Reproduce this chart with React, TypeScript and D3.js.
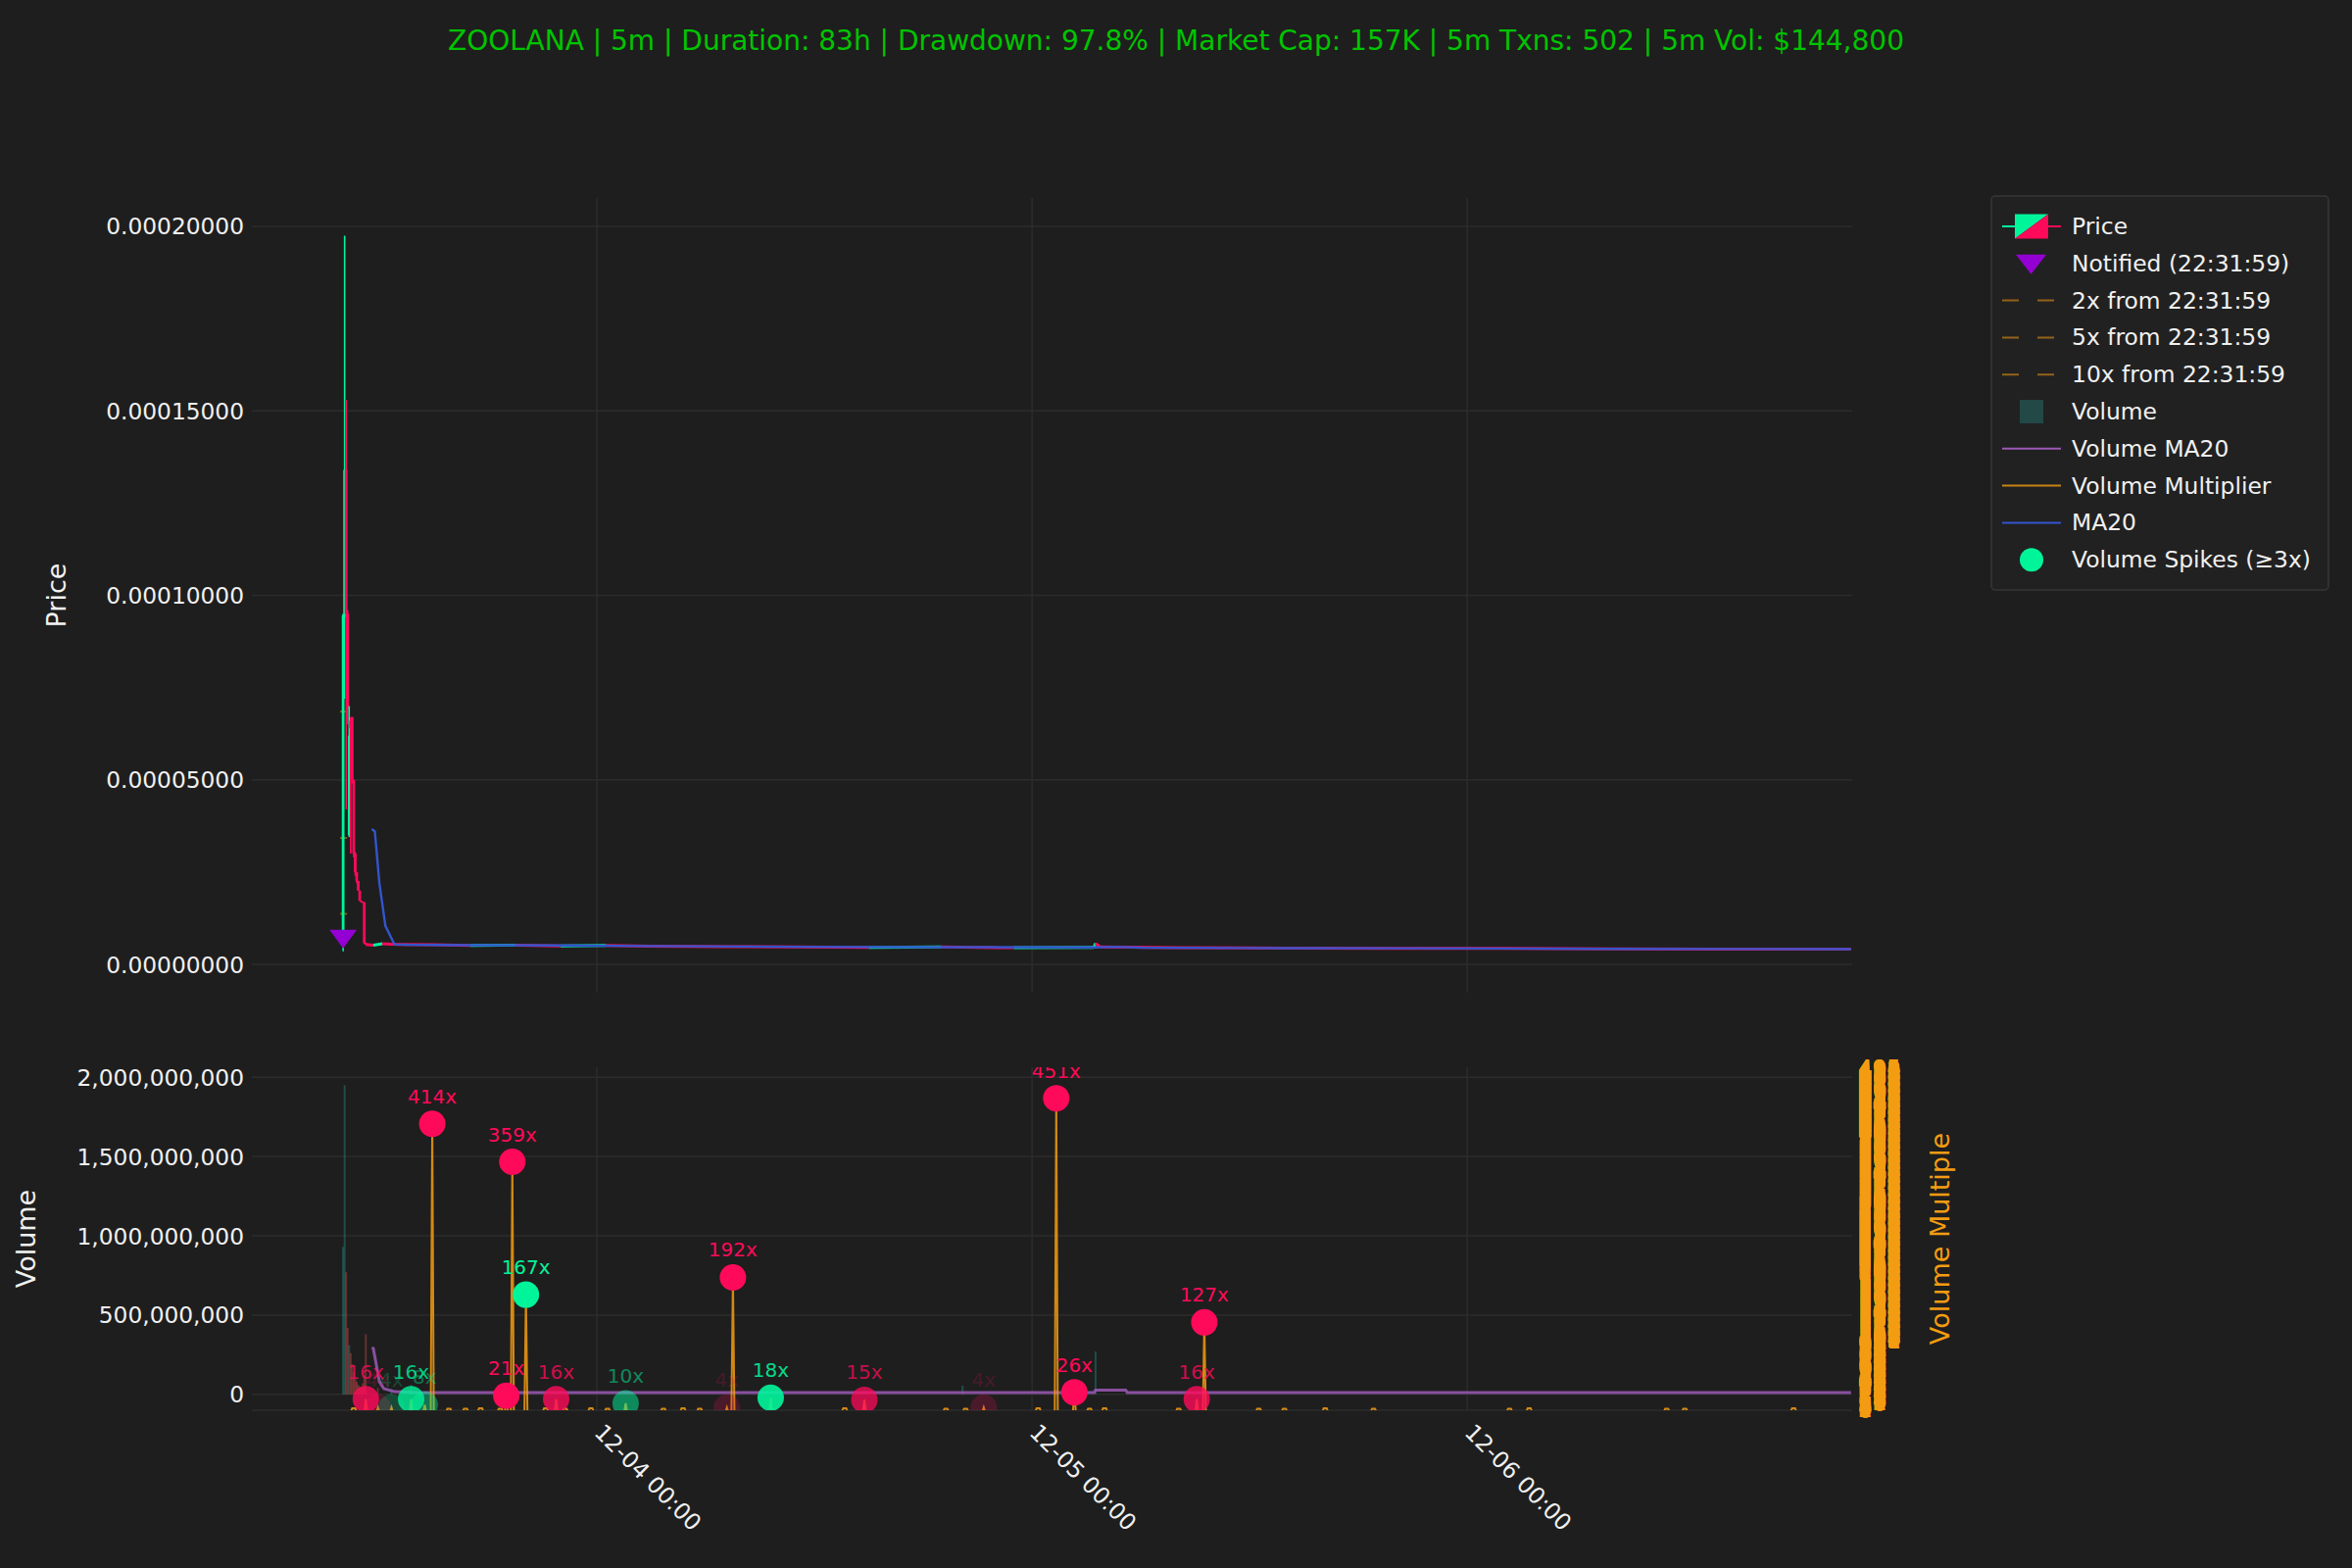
import * as d3 from 'd3'

const FONT = '"DejaVu Sans", Verdana, sans-serif'
const BG = '#1e1e1e'
const GRID = '#2c2c2c'
const UP = '#00f59b'
const DOWN = '#ff0a5a'
const VOL_UP = '#26a69a'
const VOL_DOWN = '#ef5350'
const ORANGE = '#f39c12'
const PURPLE = '#9b59b6'
const BLUE = '#3355cc'
const VIOLET = '#9400d3'

const TITLE = 'ZOOLANA | 5m | Duration: 83h | Drawdown: 97.8% | Market Cap: 157K | 5m Txns: 502 | 5m Vol: $144,800'

// launch candles (5m)
const candleTimes = ['12-03 10:00', '12-03 10:05', '12-03 10:10', '12-03 10:15', '12-03 10:20', '12-03 10:25', '12-03 10:30', '12-03 10:35', '12-03 10:40', '12-03 10:45', '12-03 10:50', '12-03 10:55', '12-03 11:00', '12-03 11:05', '12-03 11:10', '12-03 11:15']
const candleOpen = [0.0000085, 0.000094, 0.000134, 0.000095, 0.000035, 0.000066, 0.000067, 0.00005, 0.00003, 0.000025, 0.0000226, 0.00002, 0.0000172, 0.000017, 0.0000168, 0.0000058]
const candleHigh = [0.000095, 0.0001975, 0.000153, 0.000096, 0.00007, 0.000067, 0.000067, 0.00005, 0.0000305, 0.000025, 0.0000226, 0.00002, 0.0000172, 0.000017, 0.0000168, 0.0000058]
const candleLow = [0.0000035, 0.000072, 0.000042, 0.000065, 0.0000345, 0.00003, 0.000049, 0.000029, 0.000024, 0.000022, 0.00002, 0.0000172, 0.000017, 0.0000168, 0.0000055, 0.0000053]
const candleClose = [0.0000946, 0.000134, 0.000095, 0.000069, 0.000062, 0.000064, 0.00005, 0.00003, 0.000025, 0.0000226, 0.00002, 0.0000172, 0.000017, 0.0000168, 0.0000058, 0.0000054]

// after the dump the price barely moves
const tailTimes = ['12-03 11:15', '12-03 11:40', '12-03 12:10', '12-03 13:00', '12-03 15:00', '12-03 17:00', '12-03 19:30', '12-03 22:00', '12-04 00:30', '12-04 03:00', '12-04 07:00', '12-04 11:00', '12-04 15:00', '12-04 19:00', '12-04 23:00', '12-05 03:25', '12-05 03:30', '12-05 03:45', '12-05 08:00', '12-05 14:00', '12-05 20:00', '12-06 02:00', '12-06 08:00', '12-06 14:00', '12-06 21:10']
const tailPrice = [0.0000054, 0.0000052, 0.0000056, 0.0000054, 0.0000053, 0.0000051, 0.0000052, 0.000005, 0.0000051, 0.0000049, 0.0000048, 0.0000047, 0.0000046, 0.0000047, 0.0000045, 0.0000046, 0.0000057, 0.0000047, 0.0000045, 0.0000044, 0.00000435, 0.0000043, 0.0000042, 0.00000415, 0.0000041]

const ma20Times = ['12-03 11:35', '12-03 11:45', '12-03 12:00', '12-03 12:20', '12-03 12:50', '12-03 13:30', '12-03 17:00', '12-03 22:00', '12-04 03:00', '12-04 11:00', '12-04 19:00', '12-05 03:30', '12-05 04:30', '12-05 06:00', '12-05 14:00', '12-05 20:00', '12-06 08:00', '12-06 21:10']
const ma20Values = [0.0000367, 0.000036, 0.000022, 0.0000104, 0.0000054, 0.0000053, 0.0000052, 0.0000051, 0.00000495, 0.00000475, 0.00000465, 0.0000046, 0.00000475, 0.0000045, 0.0000044, 0.00000435, 0.0000042, 0.0000041]

const notifyTime = '12-03 10:00'
const notifyPrice = 0.00000685
const targetMultiples = [2, 5, 10]

// volume bars
const volTimes = ['12-03 10:00', '12-03 10:05', '12-03 10:10', '12-03 10:15', '12-03 10:20', '12-03 10:25', '12-03 10:30', '12-03 10:35', '12-03 10:40', '12-03 10:45', '12-03 10:50', '12-03 10:55', '12-03 11:00', '12-03 11:05', '12-03 11:10', '12-03 11:15', '12-03 11:55', '12-03 12:40', '12-03 13:45', '12-04 20:10', '12-05 01:20', '12-05 03:30']
const volValues = [930e6, 1950e6, 770e6, 420e6, 310e6, 260e6, 190e6, 140e6, 100e6, 80e6, 60e6, 50e6, 45e6, 70e6, 120e6, 380e6, 40e6, 35e6, 60e6, 55e6, 30e6, 270e6]
const volUp = [true, true, false, false, true, false, false, false, false, false, false, false, false, false, false, false, false, true, true, true, false, true]

const volMaTimes = ['12-03 11:35', '12-03 11:40', '12-03 12:00', '12-03 12:15', '12-03 12:50', '12-03 14:00', '12-05 03:25', '12-05 03:30', '12-05 05:10', '12-05 05:15', '12-06 21:10']
const volMaValues = [295e6, 290e6, 80e6, 36e6, 17e6, 12e6, 12e6, 26e6, 26e6, 12e6, 12e6]

// volume spikes (multiple of volume MA20)
const spikeTimes = ['12-03 11:15', '12-03 11:55', '12-03 12:40', '12-03 13:45', '12-03 14:30', '12-03 14:55', '12-03 19:00', '12-03 19:20', '12-03 20:05', '12-03 21:45', '12-04 01:35', '12-04 07:10', '12-04 07:30', '12-04 09:35', '12-04 14:45', '12-04 21:20', '12-05 01:20', '12-05 02:20', '12-05 09:05', '12-05 09:30']
const spikeMult = [16, 4, 4, 16, 8, 414, 21, 359, 167, 16, 10, 4, 192, 18, 15, 4, 451, 26, 16, 127]
const spikeUp = [false, false, true, true, true, false, false, false, true, false, true, false, false, true, false, false, false, false, false, false]

// small multiplier bumps near the floor
const minorTimes = ['12-03 10:30', '12-03 15:45', '12-03 16:40', '12-03 17:30', '12-03 18:35', '12-03 21:05', '12-03 22:10', '12-03 23:35', '12-04 00:30', '12-04 03:35', '12-04 04:40', '12-04 05:35', '12-04 13:35', '12-04 19:10', '12-04 20:15', '12-05 00:15', '12-05 03:05', '12-05 03:55', '12-05 08:00', '12-05 12:25', '12-05 13:50', '12-05 16:05', '12-05 18:45', '12-06 02:15', '12-06 03:20', '12-06 10:55', '12-06 11:55', '12-06 17:55']
const minorMult = [3, 2, 2, 3, 2, 3, 2, 3, 2, 2, 3, 2, 3, 2, 2, 3, 2, 3, 2, 2, 2, 3, 2, 2, 3, 2, 2, 3]

const priceTicks = [0, 0.00005, 0.0001, 0.00015, 0.0002]
const volumeTicks = [0, 5e8, 1e9, 1.5e9, 2e9]
const dayTicks = ['12-04 00:00', '12-05 00:00', '12-06 00:00']
const multTicks = d3.range(0, 496)

const legendLabels = ['Price', 'Notified (22:31:59)', '2x from 22:31:59', '5x from 22:31:59', '10x from 22:31:59', 'Volume', 'Volume MA20', 'Volume Multiplier', 'MA20', 'Volume Spikes (≥3x)']

const parseTime = d3.timeParse('%Y-%m-%d %H:%M')
const tp = (s: string) => parseTime('2024-' + s) as Date

const LEFT = 257
const RIGHT = 1890
const P_TOP = 202
const P_BOTTOM = 1013
const V_TOP = 1089
const V_BOTTOM = 1439

export default function App() {
  const x = d3.scaleTime().domain([tp('12-03 04:58'), tp('12-06 21:14')]).range([LEFT, RIGHT])
  const yP = d3.scaleLinear().domain([-0.0000077, 0.0002077]).range([P_BOTTOM, P_TOP])
  const yV = d3.scaleLinear().domain([-1.0e8, 2.063e9]).range([V_BOTTOM, V_TOP])
  const yM = d3.scaleLinear().domain([0, 495.8]).range([V_BOTTOM, V_TOP])

  const fmtVol = d3.format(',')
  const FIVE = 5 * 60 * 1000

  const tailLine = tailTimes.map((s, i) => ({ t: tp(s), v: tailPrice[i] }))
  const maLine = d3.line<[Date, number]>().x(d => x(d[0])).y(d => yP(d[1]))(ma20Times.map((s, i) => [tp(s), ma20Values[i]]))
  const volMaLine = d3.line<[Date, number]>().x(d => x(d[0])).y(d => yV(d[1]))(volMaTimes.map((s, i) => [tp(s), volMaValues[i]]))

  // multiplier line: floor between events, spikes straight up
  const events = [
    ...spikeTimes.map((s, i) => ({ t: tp(s).getTime(), m: spikeMult[i], w: 0 })),
    ...minorTimes.map((s, i) => ({ t: tp(s).getTime(), m: minorMult[i], w: 2 })),
  ].sort((a, b) => a.t - b.t)
  const multPts: [number, number][] = [[tp(candleTimes[0]).getTime(), -3]]
  events.forEach(e => {
    multPts.push([e.t - FIVE, -3], [e.t, e.m])
    if (e.w) multPts.push([e.t + e.w * FIVE, e.m])
    multPts.push([e.t + (e.w + 1) * FIVE, -3])
  })
  multPts.push([tp('12-06 21:10').getTime(), -3])
  const multLine = d3.line<[number, number]>().x(d => x(new Date(d[0]))).y(d => yM(d[1]))(multPts)

  const nx = x(tp(notifyTime))
  const ny = yP(notifyPrice)

  const legendX = 2043
  const legendRow = (i: number) => 231 + i * 37.8

  return (
    <svg width={2400} height={1600} style={{ display: 'block', background: BG }} fontFamily={FONT}>
      <style>{'body{margin:0;background:#1e1e1e}'}</style>
      <defs>
        <clipPath id="clipP"><rect x={LEFT} y={P_TOP} width={RIGHT - LEFT} height={P_BOTTOM - P_TOP} /></clipPath>
        <clipPath id="clipV"><rect x={LEFT} y={V_TOP} width={RIGHT - LEFT} height={V_BOTTOM - V_TOP} /></clipPath>
      </defs>
      <rect width={2400} height={1600} fill={BG} />

      <text x={1200} y={41} textAnchor="middle" dominantBaseline="central" fontSize={28} fill="#00c400">{TITLE}</text>

      {/* price panel grid */}
      {priceTicks.map(v => (
        <line key={'pg' + v} x1={LEFT} x2={RIGHT} y1={yP(v)} y2={yP(v)} stroke={GRID} strokeWidth={1.5} />
      ))}
      {dayTicks.map(s => (
        <line key={'pv' + s} x1={x(tp(s))} x2={x(tp(s))} y1={P_TOP} y2={P_BOTTOM} stroke={GRID} strokeWidth={1.5} />
      ))}
      {priceTicks.map(v => (
        <text key={'pt' + v} x={249} y={yP(v)} textAnchor="end" dominantBaseline="central" fontSize={23.3} fill="#f0f0f0">{v.toFixed(8)}</text>
      ))}
      <text transform={`translate(57,${(P_TOP + P_BOTTOM) / 2}) rotate(-90)`} textAnchor="middle" dominantBaseline="central" fontSize={27} fill="#f0f0f0">Price</text>

      <g clipPath="url(#clipP)">
        {targetMultiples.map(m => (
          <line key={'tg' + m} x1={nx - 3} x2={nx + 4} y1={yP(notifyPrice * m)} y2={yP(notifyPrice * m)} stroke={ORANGE} strokeOpacity={0.5} strokeWidth={2} />
        ))}
        {tailLine.slice(1).map((d, i) => {
          const prev = tailLine[i]
          return (
            <line key={'tl' + i} x1={x(prev.t)} x2={x(d.t)} y1={yP(prev.v)} y2={yP(d.v)} stroke={d.v >= prev.v ? UP : DOWN} strokeWidth={3} />
          )
        })}
        {candleTimes.map((s, i) => {
          const cx = x(tp(s))
          const up = candleClose[i] >= candleOpen[i]
          const col = up ? UP : DOWN
          const top = yP(Math.max(candleOpen[i], candleClose[i]))
          const bot = yP(Math.min(candleOpen[i], candleClose[i]))
          return (
            <g key={'c' + i}>
              <line x1={cx} x2={cx} y1={yP(candleHigh[i])} y2={yP(candleLow[i])} stroke={col} strokeWidth={1.6} />
              <rect x={cx - 1.4} y={top} width={2.8} height={Math.max(1.5, bot - top)} fill={col} />
            </g>
          )
        })}
        <path d={maLine ?? ''} fill="none" stroke={BLUE} strokeWidth={2.4} />
        <path d={`M${nx - 14},${ny - 9.5}L${nx + 14},${ny - 9.5}L${nx},${ny + 9.5}Z`} fill={VIOLET} />
      </g>

      {/* volume panel grid */}
      {volumeTicks.map(v => (
        <line key={'vg' + v} x1={LEFT} x2={RIGHT} y1={yV(v)} y2={yV(v)} stroke={GRID} strokeWidth={1.5} />
      ))}
      <line x1={LEFT} x2={RIGHT} y1={yM(0)} y2={yM(0)} stroke={GRID} strokeWidth={1.5} />
      {dayTicks.map(s => (
        <line key={'vv' + s} x1={x(tp(s))} x2={x(tp(s))} y1={V_TOP} y2={V_BOTTOM} stroke={GRID} strokeWidth={1.5} />
      ))}
      {volumeTicks.map(v => (
        <text key={'vt' + v} x={249} y={yV(v)} textAnchor="end" dominantBaseline="central" fontSize={23.3} fill="#f0f0f0">{fmtVol(v)}</text>
      ))}
      <text transform={`translate(26,${(V_TOP + V_BOTTOM) / 2}) rotate(-90)`} textAnchor="middle" dominantBaseline="central" fontSize={27} fill="#f0f0f0">Volume</text>

      <g clipPath="url(#clipV)">
        {volTimes.map((s, i) => {
          const cx = x(tp(s))
          return (
            <rect key={'vb' + i} x={cx - 1} y={yV(volValues[i])} width={2} height={yV(0) - yV(volValues[i])} fill={volUp[i] ? VOL_UP : VOL_DOWN} fillOpacity={0.35} />
          )
        })}
        <path d={volMaLine ?? ''} fill="none" stroke={PURPLE} strokeWidth={3} strokeOpacity={0.85} />
        <path d={multLine ?? ''} fill="none" stroke={ORANGE} strokeWidth={2} strokeOpacity={0.85} />
        {spikeTimes.map((s, i) => {
          const cx = x(tp(s))
          const cy = yM(spikeMult[i])
          const a = Math.min(1, spikeMult[i] / 20)
          const col = spikeUp[i] ? UP : DOWN
          return (
            <g key={'sp' + i}>
              <circle cx={cx} cy={cy} r={13.5} fill={col} fillOpacity={a} />
              <text x={cx} y={cy - 28} textAnchor="middle" dominantBaseline="central" fontSize={20} fill={col} fillOpacity={a}>{spikeMult[i]}x</text>
            </g>
          )
        })}
      </g>

      {/* right axis: volume multiple, one label per unit as in the source */}
      {multTicks.map(v => (
        <text key={'mt' + v} x={1896} y={yM(v)} dominantBaseline="central" fontSize={23} fill={ORANGE}>{v}</text>
      ))}
      <text transform={`translate(1979,${(V_TOP + V_BOTTOM) / 2}) rotate(-90)`} textAnchor="middle" dominantBaseline="central" fontSize={27} fill={ORANGE}>Volume Multiple</text>

      {dayTicks.map(s => (
        <text key={'xt' + s} transform={`translate(${x(tp(s)) - 4},1463) rotate(45)`} fontSize={23.3} fill="#f0f0f0">{s}</text>
      ))}

      {/* legend */}
      <rect x={2032} y={200} width={344} height={402} rx={4} fill="#212121" stroke="#363636" strokeWidth={1.5} />
      {legendLabels.map((label, i) => {
        const y = legendRow(i)
        let handle = null
        if (i === 0) {
          handle = (
            <g>
              <line x1={legendX} x2={2056} y1={y} y2={y} stroke={UP} strokeWidth={2} />
              <line x1={2090} x2={2103} y1={y} y2={y} stroke={DOWN} strokeWidth={2} />
              <path d={`M2056,${y - 12.5}L2090,${y - 12.5}L2056,${y + 12.5}Z`} fill={UP} />
              <path d={`M2090,${y - 12.5}L2090,${y + 12.5}L2056,${y + 12.5}Z`} fill={DOWN} />
            </g>
          )
        } else if (i === 1) {
          handle = <path d={`M2057,${y - 9}L2088,${y - 9}L2072.5,${y + 11}Z`} fill={VIOLET} />
        } else if (i <= 4) {
          handle = <line x1={legendX} x2={2097} y1={y} y2={y} stroke={ORANGE} strokeOpacity={0.55} strokeWidth={2} strokeDasharray="17,19" />
        } else if (i === 5) {
          handle = <rect x={2061} y={y - 12} width={24} height={24} fill={VOL_UP} fillOpacity={0.3} />
        } else if (i === 9) {
          handle = <circle cx={2073} cy={y} r={12} fill={UP} />
        } else {
          const col = i === 6 ? PURPLE : i === 7 ? ORANGE : BLUE
          handle = <line x1={legendX} x2={2103} y1={y} y2={y} stroke={col} strokeOpacity={i === 7 ? 0.8 : 1} strokeWidth={2} />
        }
        return (
          <g key={'lg' + i}>
            {handle}
            <text x={2114} y={y} dominantBaseline="central" fontSize={23.4} fill="#f0f0f0">{label}</text>
          </g>
        )
      })}
    </svg>
  )
}
